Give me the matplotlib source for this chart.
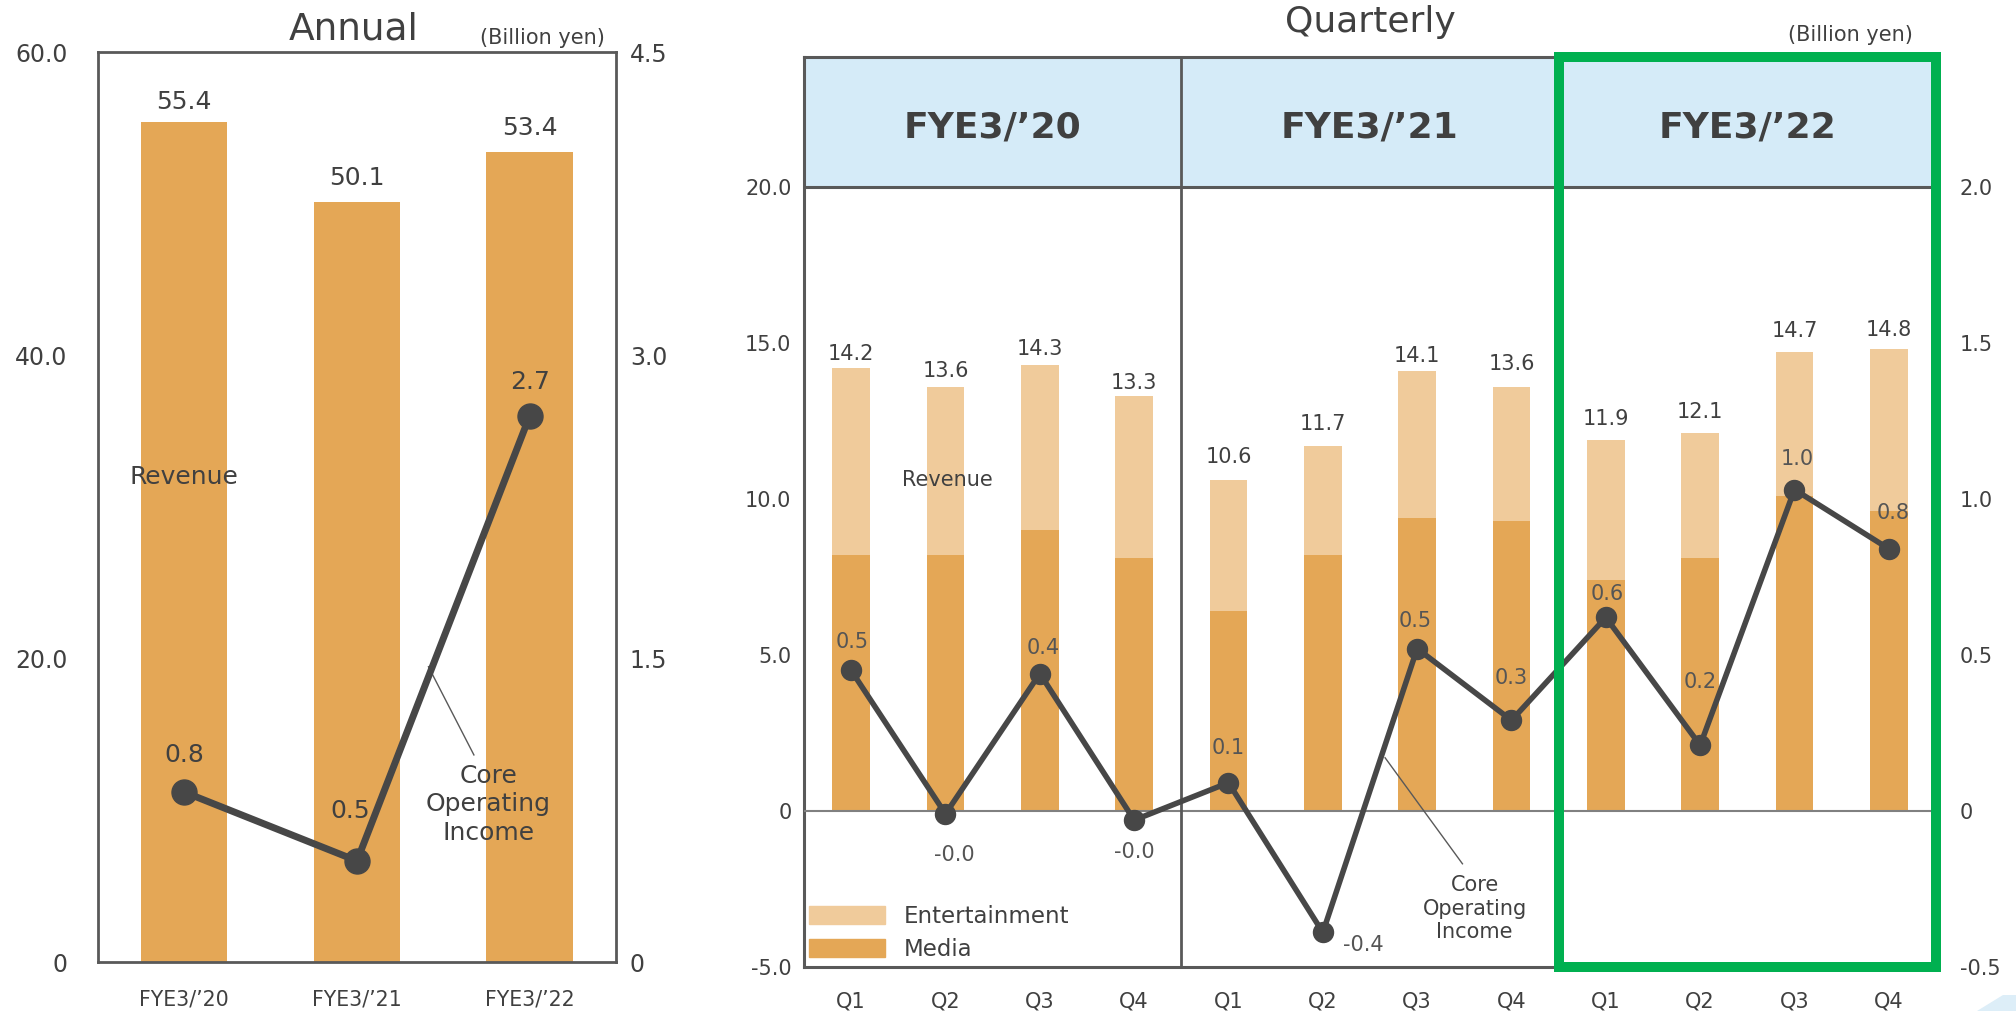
import numpy as np
import matplotlib
matplotlib.use("Agg")
import matplotlib.pyplot as plt
from matplotlib.patches import Patch, Rectangle, Polygon
from matplotlib.ticker import FuncFormatter

# ---------------- data (billion yen) ----------------
fiscal_years = ["FYE3/’20", "FYE3/’21", "FYE3/’22"]
annual_revenue = [55.4, 50.1, 53.4]
annual_core_oi = [0.84, 0.50, 2.70]

quarter_labels = ["Q1", "Q2", "Q3", "Q4"] * 3
period_headers = ["FYE3/’20", "FYE3/’21", "FYE3/’22"]
media_revenue = [8.2, 8.2, 9.0, 8.1, 6.4, 8.2, 9.4, 9.3, 7.4, 8.1, 10.1, 9.6]
entertainment_revenue = [6.0, 5.4, 5.3, 5.2, 4.2, 3.5, 4.7, 4.3, 4.5, 4.0, 4.6, 5.2]
quarterly_core_oi = [0.45, -0.01, 0.44, -0.03, 0.09, -0.39, 0.52, 0.29, 0.62, 0.21, 1.03, 0.84]

# ---------------- styling ----------------
MEDIA = "#E4A756"
ENT = "#F0CB9B"
LINE = "#474747"
FRAME = "#595959"
TEXT = "#404040"
HEADER = "#D5EBF8"
GREEN = "#00B050"

plt.rcParams["font.family"] = ["DejaVu Sans"]
plt.rcParams["text.color"] = TEXT

W, H = 2016, 1011
fig = plt.figure(figsize=(W / 100, H / 100), dpi=100)


def px_box(left, top, right, bottom):
    return [left / W, 1 - bottom / H, (right - left) / W, (bottom - top) / H]


def tick_fmt(v, _):
    return "0" if abs(v) < 1e-9 else f"{v:.1f}"


fmt = FuncFormatter(tick_fmt)

# label offsets (points) above bar tops / around markers
annual_bar_lbl_off = [9, 12, 12.5]
annual_oi_lbl_off = [(0, 21.8), (-4.8, 31), (0, 19.4)]
q_bar_lbl_off = [5.8, 7.2, 7.2, 5, 12.2, 11.5, 6.5, 12.2, 10.8, 10.8, 10.8, 9.4]
q_oi_lbl_off = [(0.7, 16.2), (6.5, -34.2), (2.2, 14.4), (0, -27.4), (0, 20.5),
                (28.8, -13.3), (-1.4, 15.5), (0, 26.3), (0.7, 12.2), (0, 41.4),
                (2.2, 18), (2.9, 21.6)]

# ================= Annual =================
ax1 = fig.add_axes(px_box(98, 52, 616, 962))
xa = np.arange(len(fiscal_years))
ax1.bar(xa, annual_revenue, width=0.5, color=MEDIA, zorder=2)
ax1.set_xlim(-0.5, 2.5)
ax1.set_ylim(0, 60)
ax1.set_yticks([0, 20, 40, 60])
ax1.yaxis.set_major_formatter(fmt)
ax1.set_xticks(xa, fiscal_years)
ax1.tick_params(axis="y", length=0, pad=22, labelsize=17, labelcolor=TEXT)
ax1.tick_params(axis="x", length=0, pad=20, labelsize=14.8, labelcolor=TEXT)
for s in ax1.spines.values():
    s.set_color(FRAME)
    s.set_linewidth(2)
for i, v in enumerate(annual_revenue):
    ax1.annotate(f"{v:.1f}", (i, v), xytext=(0, annual_bar_lbl_off[i]),
                 textcoords="offset points", ha="center", va="baseline",
                 fontsize=18, color=TEXT)
ax1.text(0, 31.5, "Revenue", ha="center", va="baseline", fontsize=18, color=TEXT)

ax1r = ax1.twinx()
ax1r.set_ylim(0, 4.5)
ax1r.set_yticks([0, 1.5, 3.0, 4.5])
ax1r.yaxis.set_major_formatter(fmt)
ax1r.tick_params(axis="y", length=0, pad=10, labelsize=17, labelcolor=TEXT)
for s in ax1r.spines.values():
    s.set_visible(False)
ax1r.plot(xa, annual_core_oi, color=LINE, lw=5, marker="o", ms=18, zorder=3)
for i, v in enumerate(annual_core_oi):
    ax1r.annotate(f"{v:.1f}", (i, v), xytext=annual_oi_lbl_off[i],
                  textcoords="offset points", ha="center", va="baseline",
                  fontsize=18, color=TEXT)
ax1r.plot([1.414, 1.677], [1.46, 1.024], color=FRAME, lw=1, zorder=2)
ax1r.text(1.76, 0.78, "Core\nOperating\nIncome", ha="center", va="center",
          fontsize=18, color=TEXT, linespacing=1.25)

fig.text(353.6 / W, 1 - 39.3 / H, "Annual", ha="center", va="baseline",
         fontsize=27, color=TEXT)
fig.text(605 / W, 1 - 44 / H, "(Billion yen)", ha="right", va="baseline",
         fontsize=15, color=TEXT)

# ================= Quarterly =================
ax2 = fig.add_axes(px_box(804, 56.7, 1936, 966.7))
xq = np.arange(len(quarter_labels))
ax2.bar(xq, media_revenue, width=0.4, color=MEDIA, zorder=2)
ax2.bar(xq, entertainment_revenue, bottom=media_revenue, width=0.4, color=ENT, zorder=2)
ax2.set_xlim(-0.5, 11.5)
ax2.set_ylim(-5, 24.18)
ax2.set_yticks([-5, 0, 5, 10, 15, 20])
ax2.yaxis.set_major_formatter(fmt)
ax2.set_xticks(xq, quarter_labels)
ax2.tick_params(axis="y", length=0, pad=9, labelsize=15, labelcolor=TEXT)
ax2.tick_params(axis="x", length=0, pad=17.5, labelsize=15, labelcolor=TEXT)
for s in ax2.spines.values():
    s.set_color(FRAME)
    s.set_linewidth(2.2)

ax2.axhspan(20, 24.18, color=HEADER, lw=0, zorder=0)
ax2.axhline(20, color=FRAME, lw=2.2, zorder=3)
ax2.axhline(0, color="#808080", lw=1.5, zorder=3)
for xv in (3.5, 7.5):
    ax2.axvline(xv, color=FRAME, lw=2, zorder=3)
for k, hdr in enumerate(period_headers):
    ax2.text(1.5 + 4 * k, 21.58, hdr, ha="center", va="baseline",
             fontsize=26, fontweight="bold", color=TEXT)

totals = np.array(media_revenue) + np.array(entertainment_revenue)
for i, v in enumerate(totals):
    ax2.annotate(f"{v:.1f}", (i, v), xytext=(0, q_bar_lbl_off[i]),
                 textcoords="offset points", ha="center", va="baseline",
                 fontsize=15, color=TEXT)
ax2.text(1.02, 10.4, "Revenue", ha="center", va="baseline", fontsize=15, color=TEXT)

ax2.legend(handles=[Patch(color=ENT, label="Entertainment"),
                    Patch(color=MEDIA, label="Media")],
           loc="lower left", bbox_to_anchor=(0.0044, 0.0065), frameon=False,
           fontsize=16.5, handlelength=3.3, handleheight=0.87,
           handletextpad=0.83, labelspacing=0.43, borderpad=0,
           borderaxespad=0, labelcolor=TEXT)

ax2r = ax2.twinx()
ax2r.set_ylim(-0.5, 2.418)
ax2r.set_yticks([-0.5, 0, 0.5, 1.0, 1.5, 2.0])
ax2r.yaxis.set_major_formatter(fmt)
ax2r.tick_params(axis="y", length=0, pad=17, labelsize=15, labelcolor=TEXT)
for s in ax2r.spines.values():
    s.set_visible(False)
ax2r.plot(xq, quarterly_core_oi, color=LINE, lw=4, marker="o", ms=14.4, zorder=3)
for i, v in enumerate(quarterly_core_oi):
    ax2r.annotate(f"{v:.1f}", (i, v), xytext=q_oi_lbl_off[i],
                  textcoords="offset points", ha="center", va="baseline",
                  fontsize=15, color="#555555")
ax2r.plot([5.66, 6.48], [0.17, -0.17], color=FRAME, lw=1, zorder=2)
ax2r.text(6.61, -0.314, "Core\nOperating\nIncome", ha="center", va="center",
          fontsize=15, color=TEXT, linespacing=1.2)

# highlight frame around the latest fiscal year
ax2r.add_patch(Rectangle((8 / 12, 0), 4 / 12, 1, transform=ax2r.transAxes,
                         fill=False, ec=GREEN, lw=7.2, clip_on=False, zorder=6))

fig.text(1370.6 / W, 1 - 31.7 / H, "Quarterly", ha="center", va="baseline",
         fontsize=26, color=TEXT)
fig.text(1913 / W, 1 - 41 / H, "(Billion yen)", ha="right", va="baseline",
         fontsize=15, color=TEXT)

# corner accent
fig.patches.append(Polygon([[1977 / W, 0], [2003 / W, 16 / H], [1, 16 / H], [1, 0]],
                           closed=True, transform=fig.transFigure,
                           color="#DDEEF8", lw=0))

fig.savefig("out.png", dpi=100)
